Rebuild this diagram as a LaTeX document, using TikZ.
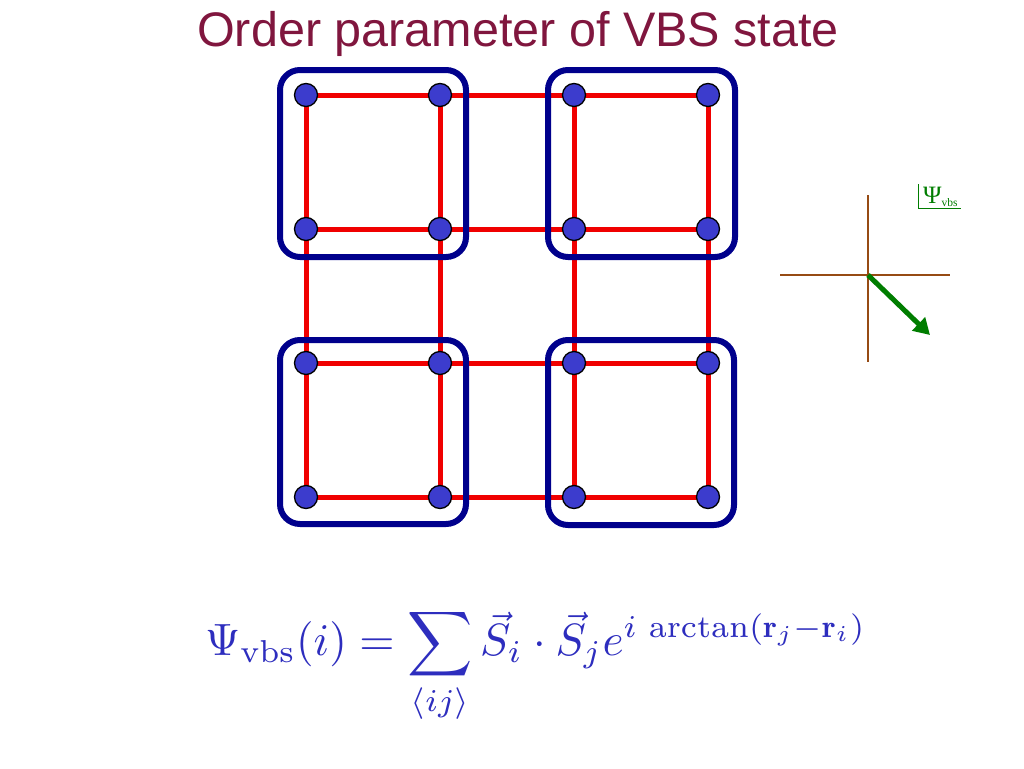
\documentclass[tikz,border=0pt]{standalone}
\usepackage{fontspec}
\usepackage{amsmath}
\newfontfamily\arialfont{Liberation Sans}
\newfontfamily\timesfont{Liberation Serif}
\usepackage{graphicx}
\usetikzlibrary{arrows.meta}
\definecolor{titlecol}{RGB}{128,22,62}
\definecolor{bondred}{RGB}{240,0,0}
\definecolor{plaqblue}{RGB}{0,0,140}
\definecolor{dotblue}{RGB}{60,60,205}
\definecolor{axisbrown}{RGB}{150,75,20}
\definecolor{arrowgreen}{RGB}{0,125,0}
\definecolor{formblue}{RGB}{45,45,190}
\tikzset{
  site/.style={circle,draw=black,line width=1.3pt,fill=dotblue,minimum size=23pt,inner sep=0pt},
  bond/.style={draw=bondred,line width=5pt},
  plaq/.style={draw=plaqblue,line width=6pt,rounded corners=20pt},
  axis/.style={draw=axisbrown,line width=1.6pt},
}
\begin{document}
\begin{tikzpicture}[x=1pt,y=-1pt]
\useasboundingbox (0,0) rectangle (1024,768);
\node[font=\arialfont\fontsize{48.5}{54}\selectfont,text=titlecol,anchor=base] (title) at (518,47) {Order parameter of VBS state};
% sites
\foreach \i/\x in {1/306,2/440,3/574,4/708}{
  \foreach \j/\y in {1/95,2/229,3/363,4/497}{
    \coordinate (c\i\j) at (\x,\y);
  }
}
% bonds
\foreach \j in {1,2,3,4}{
  \draw[bond] (c1\j) -- (c4\j);
}
\foreach \i in {1,2,3,4}{
  \draw[bond] (c\i1) -- (c\i4);
}
% plaquettes
\draw[plaq] (280,70) rectangle (466,257);
\draw[plaq] (548,70) rectangle (735,257);
\draw[plaq] (280,340) rectangle (466,524);
\draw[plaq] (548,340) rectangle (734,525);
\foreach \i in {1,2,3,4}{
  \foreach \j in {1,2,3,4}{
    \node[site] (s\i\j) at (c\i\j) {};
  }
}
% axes
\coordinate (o) at (868,275);
\coordinate (yt) at (868,195);
\coordinate (yb) at (868,362);
\coordinate (xl) at (780,275);
\coordinate (xr) at (950,275);
\coordinate (tip) at (930,335);
\draw[axis] (yt) -- (yb);
\draw[axis] (xl) -- (xr);
\draw[draw=arrowgreen,line width=5pt,-{Triangle[length=16pt,width=18pt]}] (o) -- (tip);
\node[text=arrowgreen,anchor=base west,inner sep=0pt] (lab) at (923,203) {{\timesfont\fontsize{25}{27}\selectfont Ψ}\raisebox{-3pt}{\timesfont\fontsize{11.5}{13}\selectfont vbs}};
\coordinate (brtop) at (918,184);
\coordinate (brend) at (961,208);
\draw[draw=arrowgreen,line width=0.9pt] (brtop) |- (brend);
% formula
\node[text=formblue,anchor=north west,inner sep=0pt] (f) at (205,608) {\resizebox{661pt}{!}{$\displaystyle \Psi_{\mathrm{vbs}}(i)=\sum_{\langle ij\rangle}\vec{S}_i\cdot\vec{S}_j e^{i\,\arctan(\mathbf{r}_j-\mathbf{r}_i)}$}};
\end{tikzpicture}
\end{document}
